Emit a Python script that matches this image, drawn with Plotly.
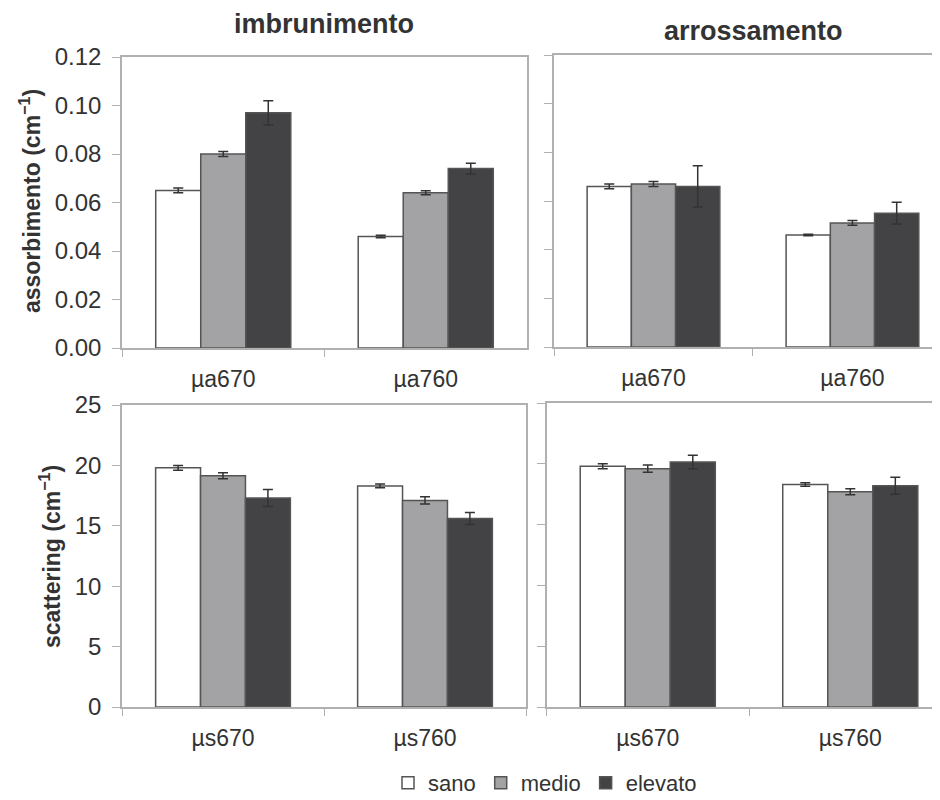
import plotly.graph_objects as go

series = ["sano", "medio", "elevato"]
colors = ["#ffffff", "#a3a3a5", "#434345"]

cat_abs = ["µa670", "µa760"]
cat_sca = ["µs670", "µs760"]

# imbrunimento - assorbimento
imb_abs = {"sano": [0.065, 0.046], "medio": [0.080, 0.064], "elevato": [0.097, 0.074]}
imb_abs_err = {"sano": [0.001, 0.0005], "medio": [0.001, 0.0008], "elevato": [0.005, 0.0022]}
# arrossamento - assorbimento
arr_abs = {"sano": [0.066, 0.046], "medio": [0.067, 0.051], "elevato": [0.066, 0.055]}
arr_abs_err = {"sano": [0.001, 0.0003], "medio": [0.001, 0.001], "elevato": [0.0085, 0.0045]}
# imbrunimento - scattering
imb_sca = {"sano": [19.8, 18.3], "medio": [19.15, 17.1], "elevato": [17.3, 15.6]}
imb_sca_err = {"sano": [0.2, 0.15], "medio": [0.25, 0.3], "elevato": [0.7, 0.5]}
# arrossamento - scattering
arr_sca = {"sano": [19.8, 18.3], "medio": [19.6, 17.7], "elevato": [20.15, 18.2]}
arr_sca_err = {"sano": [0.2, 0.15], "medio": [0.3, 0.25], "elevato": [0.55, 0.7]}

abs_ticks = [0.00, 0.02, 0.04, 0.06, 0.08, 0.10, 0.12]
sca_ticks = [0, 5, 10, 15, 20, 25]

FONT = "Liberation Sans, Arial, sans-serif"
TXT = "#333333"

# page body has an 8px default margin; the figure is sized to fill the rest
W, H, OFF = 932, 792, 8


def fx(px):
    return (px - OFF) / W


def fy(py):
    return 1 - (py - OFF) / H


fig = go.Figure()

panels = [
    ("x", "y", cat_abs, imb_abs, imb_abs_err, True),
    ("x2", "y2", cat_abs, arr_abs, arr_abs_err, False),
    ("x3", "y3", cat_sca, imb_sca, imb_sca_err, False),
    ("x4", "y4", cat_sca, arr_sca, arr_sca_err, False),
]
for xa, ya, cats, vals, errs, legend in panels:
    for s, c in zip(series, colors):
        fig.add_trace(go.Bar(
            x=cats, y=vals[s], name=s, xaxis=xa, yaxis=ya,
            marker=dict(color=c, line=dict(color="#555555", width=1.5)),
            error_y=dict(type="data", array=errs[s], color="#333333",
                         thickness=1.5, width=5),
            showlegend=legend, legendgroup=s,
        ))

axis_line = dict(showline=True, linecolor="#b0b0b0", linewidth=1.5,
                 showgrid=False, zeroline=False, automargin=False)
xcommon = dict(axis_line, mirror=True, ticks="outside", tickson="boundaries",
               ticklen=7, tickcolor="#b0b0b0",
               tickfont=dict(family=FONT, size=23, color=TXT),
               ticklabelstandoff=10)
ycommon = dict(axis_line, ticks="outside", ticklen=8, tickcolor="#b0b0b0",
               tickfont=dict(family=FONT, size=24, color=TXT),
               ticklabelstandoff=6)

fig.update_layout(
    width=W, height=H,
    margin=dict(l=0, r=0, t=0, b=0, autoexpand=False),
    paper_bgcolor="white", plot_bgcolor="white",
    barmode="group", bargap=0.333, bargroupgap=0,
    font=dict(family=FONT, color=TXT),
    xaxis=dict(xcommon, domain=[fx(122), fx(527)], anchor="y", range=[-0.5, 1.5]),
    yaxis=dict(ycommon, domain=[fy(348), fy(57)], anchor="x", range=[0, 0.12],
               tickvals=abs_ticks, tickformat=".2f", mirror=True),
    xaxis2=dict(xcommon, domain=[fx(554), 1.0], anchor="y2", range=[-0.5, 1.44]),
    yaxis2=dict(ycommon, domain=[fy(347), fy(55)], anchor="x2", range=[0, 0.12],
                tickvals=abs_ticks, showticklabels=False),
    xaxis3=dict(xcommon, domain=[fx(122), fx(526)], anchor="y3", range=[-0.5, 1.5]),
    yaxis3=dict(ycommon, domain=[fy(707), fy(405)], anchor="x3", range=[0, 25],
                tickvals=sca_ticks, mirror=True),
    xaxis4=dict(xcommon, domain=[fx(546.5), 1.0], anchor="y4", range=[-0.5, 1.443]),
    yaxis4=dict(ycommon, domain=[fy(707), fy(403)], anchor="x4", range=[0, 25],
                tickvals=sca_ticks, showticklabels=False),
    legend=dict(orientation="h", x=fx(545), xanchor="center", y=fy(783), yanchor="middle",
                font=dict(family=FONT, size=22, color=TXT),
                itemwidth=30, tracegroupgap=0, traceorder="normal"),
    annotations=[
        dict(text="<b>imbrunimento</b>", x=fx(324), y=fy(24), xref="paper", yref="paper",
             xanchor="center", yanchor="middle", showarrow=False,
             font=dict(family=FONT, size=27, color=TXT)),
        dict(text="<b>arrossamento</b>", x=fx(753), y=fy(31), xref="paper", yref="paper",
             xanchor="center", yanchor="middle", showarrow=False,
             font=dict(family=FONT, size=27, color=TXT)),
        dict(text="<b>assorbimento (cm<sup>−1</sup>)</b>", x=fx(30), y=fy(201),
             xref="paper", yref="paper", xanchor="center", yanchor="middle",
             showarrow=False, textangle=-90,
             font=dict(family=FONT, size=23, color=TXT)),
        dict(text="<b>scattering (cm<sup>−1</sup>)</b>", x=fx(50), y=fy(557),
             xref="paper", yref="paper", xanchor="center", yanchor="middle",
             showarrow=False, textangle=-90,
             font=dict(family=FONT, size=23, color=TXT)),
    ],
)

fig.write_html("out.html")
